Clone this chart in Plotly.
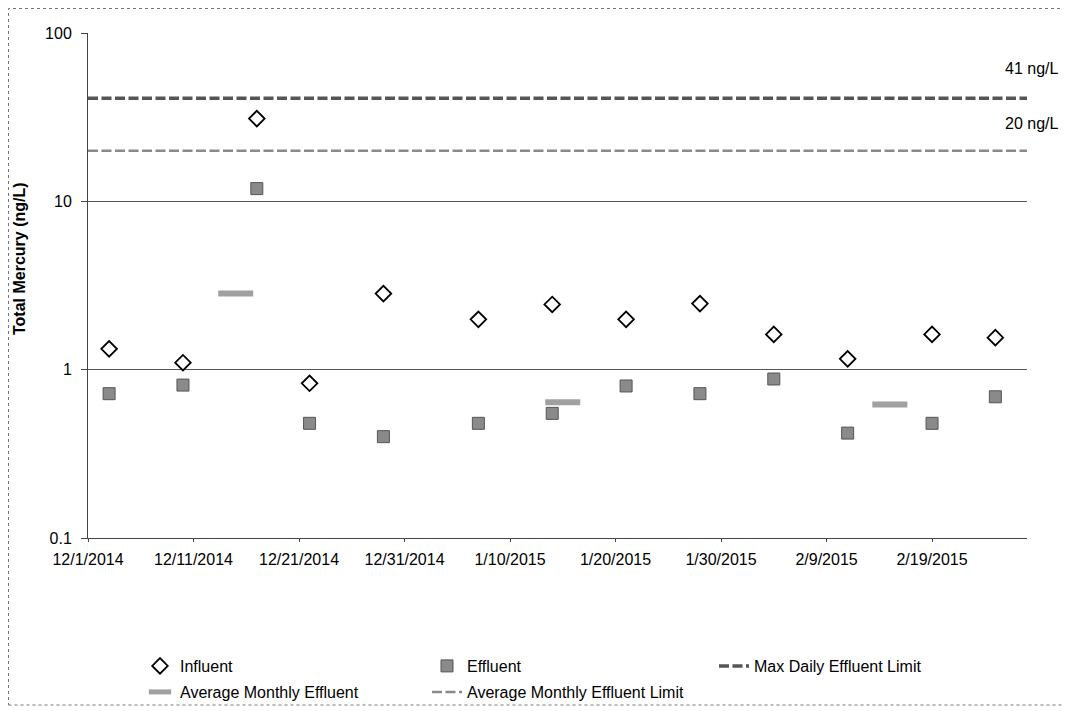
import plotly.graph_objects as go
import math

# ---- data ----
sample_dates = ["2014-12-03", "2014-12-10", "2014-12-17", "2014-12-22", "2014-12-29",
                "2015-01-07", "2015-01-14", "2015-01-21", "2015-01-28", "2015-02-04",
                "2015-02-11", "2015-02-19", "2015-02-25"]
influent = [1.33, 1.10, 31.0, 0.83, 2.83, 1.99, 2.44, 1.99, 2.47, 1.62, 1.16, 1.62, 1.55]
effluent = [0.72, 0.81, 11.9, 0.48, 0.40, 0.48, 0.55, 0.80, 0.72, 0.88, 0.42, 0.48, 0.69]

monthly_dates = ["2014-12-15", "2015-01-15", "2015-02-15"]
monthly_avg_effluent = [2.83, 0.64, 0.62]

limit_dates = ["2014-12-01", "2015-02-28"]
max_daily_limit = [41, 41]
avg_monthly_limit = [20, 20]
limit_labels = ["41 ng/L", "20 ng/L"]

xtick_dates = ["2014-12-01", "2014-12-11", "2014-12-21", "2014-12-31", "2015-01-10",
               "2015-01-20", "2015-01-30", "2015-02-09", "2015-02-19"]
xtick_text = ["12/1/2014", "12/11/2014", "12/21/2014", "12/31/2014", "1/10/2015",
              "1/20/2015", "1/30/2015", "2/9/2015", "2/19/2015"]
ytick_vals = [0.1, 1, 10, 100]
ytick_text = ["0.1", "1", "10", "100"]
y_title = "Total Mercury (ng/L)"

# page has an 8px body margin, so the figure is drawn 8px smaller
OFF = 8
W, H = 1071 - OFF, 711 - OFF
ML, MR, MT, MB = 88 - OFF, 44, 33 - OFF, 173
PW, PH = W - ML - MR, H - MT - MB
FONT = "Liberation Sans, Arial, sans-serif"

def px_x(px):   # reference pixel -> paper x
    return (px - OFF - ML) / PW

def px_y(py):   # reference pixel -> paper y
    return (H - MB - (py - OFF)) / PH

fig = go.Figure()

fig.add_trace(go.Scatter(
    x=sample_dates, y=influent, mode="markers", name="Influent",
    marker=dict(symbol="diamond", size=12, color="white",
                line=dict(color="black", width=1.8)),
    legend="legend"))
fig.add_trace(go.Scatter(
    x=sample_dates, y=effluent, mode="markers", name="Effluent",
    marker=dict(symbol="square", size=12, color="#8a8a8a",
                line=dict(color="#555555", width=1)),
    legend="legend2"))
fig.add_trace(go.Scatter(
    x=limit_dates, y=max_daily_limit, mode="lines", name="Max Daily Effluent Limit",
    line=dict(color="#555555", width=3.5, dash="10px,3.5px"),
    legend="legend3"))
fig.add_trace(go.Scatter(
    x=monthly_dates, y=monthly_avg_effluent, mode="markers", name="Average Monthly Effluent",
    marker=dict(symbol="line-ew", size=25, color="#a0a0a0",
                line=dict(color="#a0a0a0", width=6)),
    legend="legend4"))
fig.add_trace(go.Scatter(
    x=limit_dates, y=avg_monthly_limit, mode="lines", name="Average Monthly Effluent Limit",
    line=dict(color="#8a8a8a", width=2.5, dash="10px,3.5px"),
    legend="legend5"))

# limit labels
for val, txt, ys in zip([max_daily_limit[0], avg_monthly_limit[0]], limit_labels, [30, 27]):
    fig.add_annotation(x=px_x(1060), xref="paper", xanchor="right",
                       y=math.log10(val), yref="y", yanchor="middle", yshift=ys,
                       text=txt, showarrow=False,
                       font=dict(family=FONT, size=16, color="black"))

# y axis title
fig.add_annotation(x=px_x(20), xref="paper", xanchor="center",
                   y=px_y(259), yref="paper", yanchor="middle",
                   text="<b>" + y_title + "</b>", textangle=-90, showarrow=False,
                   font=dict(family=FONT, size=16, color="black"))

# outer dotted border
fig.add_shape(type="rect", xref="paper", yref="paper",
              x0=px_x(OFF + 0.5), x1=px_x(1068),
              y0=px_y(705), y1=px_y(OFF + 0.5),
              line=dict(color="#777777", width=1, dash="dot"), layer="below")

def leg(text_left, py):
    return dict(xref="container", yref="container",
                x=(text_left - OFF - 40) / W, y=1 - (py - OFF) / H,
                xanchor="left", yanchor="middle", orientation="h",
                bgcolor="rgba(0,0,0,0)",
                font=dict(family=FONT, size=16, color="black"))

fig.update_layout(
    width=W, height=H,
    margin=dict(l=ML, r=MR, t=MT, b=MB),
    paper_bgcolor="white", plot_bgcolor="white",
    showlegend=True,
    font=dict(family=FONT, size=16, color="black"),
    legend=leg(180, 666),
    legend2=leg(467, 666),
    legend3=leg(754, 666),
    legend4=leg(180, 692),
    legend5=leg(467, 692),
    xaxis=dict(type="date", range=["2014-12-01", "2015-02-28"],
               tickvals=xtick_dates, ticktext=xtick_text,
               showgrid=False, zeroline=False,
               showline=True, linecolor="#444444", linewidth=1,
               ticks="outside", ticklen=3, tickcolor="#444444",
               ticklabelstandoff=4,
               tickfont=dict(family=FONT, size=16, color="black")),
    yaxis=dict(type="log", range=[-1, 2],
               tickvals=ytick_vals, ticktext=ytick_text,
               showgrid=True, gridcolor="#555555", gridwidth=1,
               showline=True, linecolor="#444444", linewidth=1,
               ticks="outside", ticklen=6, tickcolor="#444444",
               ticklabelstandoff=6,
               tickfont=dict(family=FONT, size=16, color="black")),
)

fig.write_html("out.html")
